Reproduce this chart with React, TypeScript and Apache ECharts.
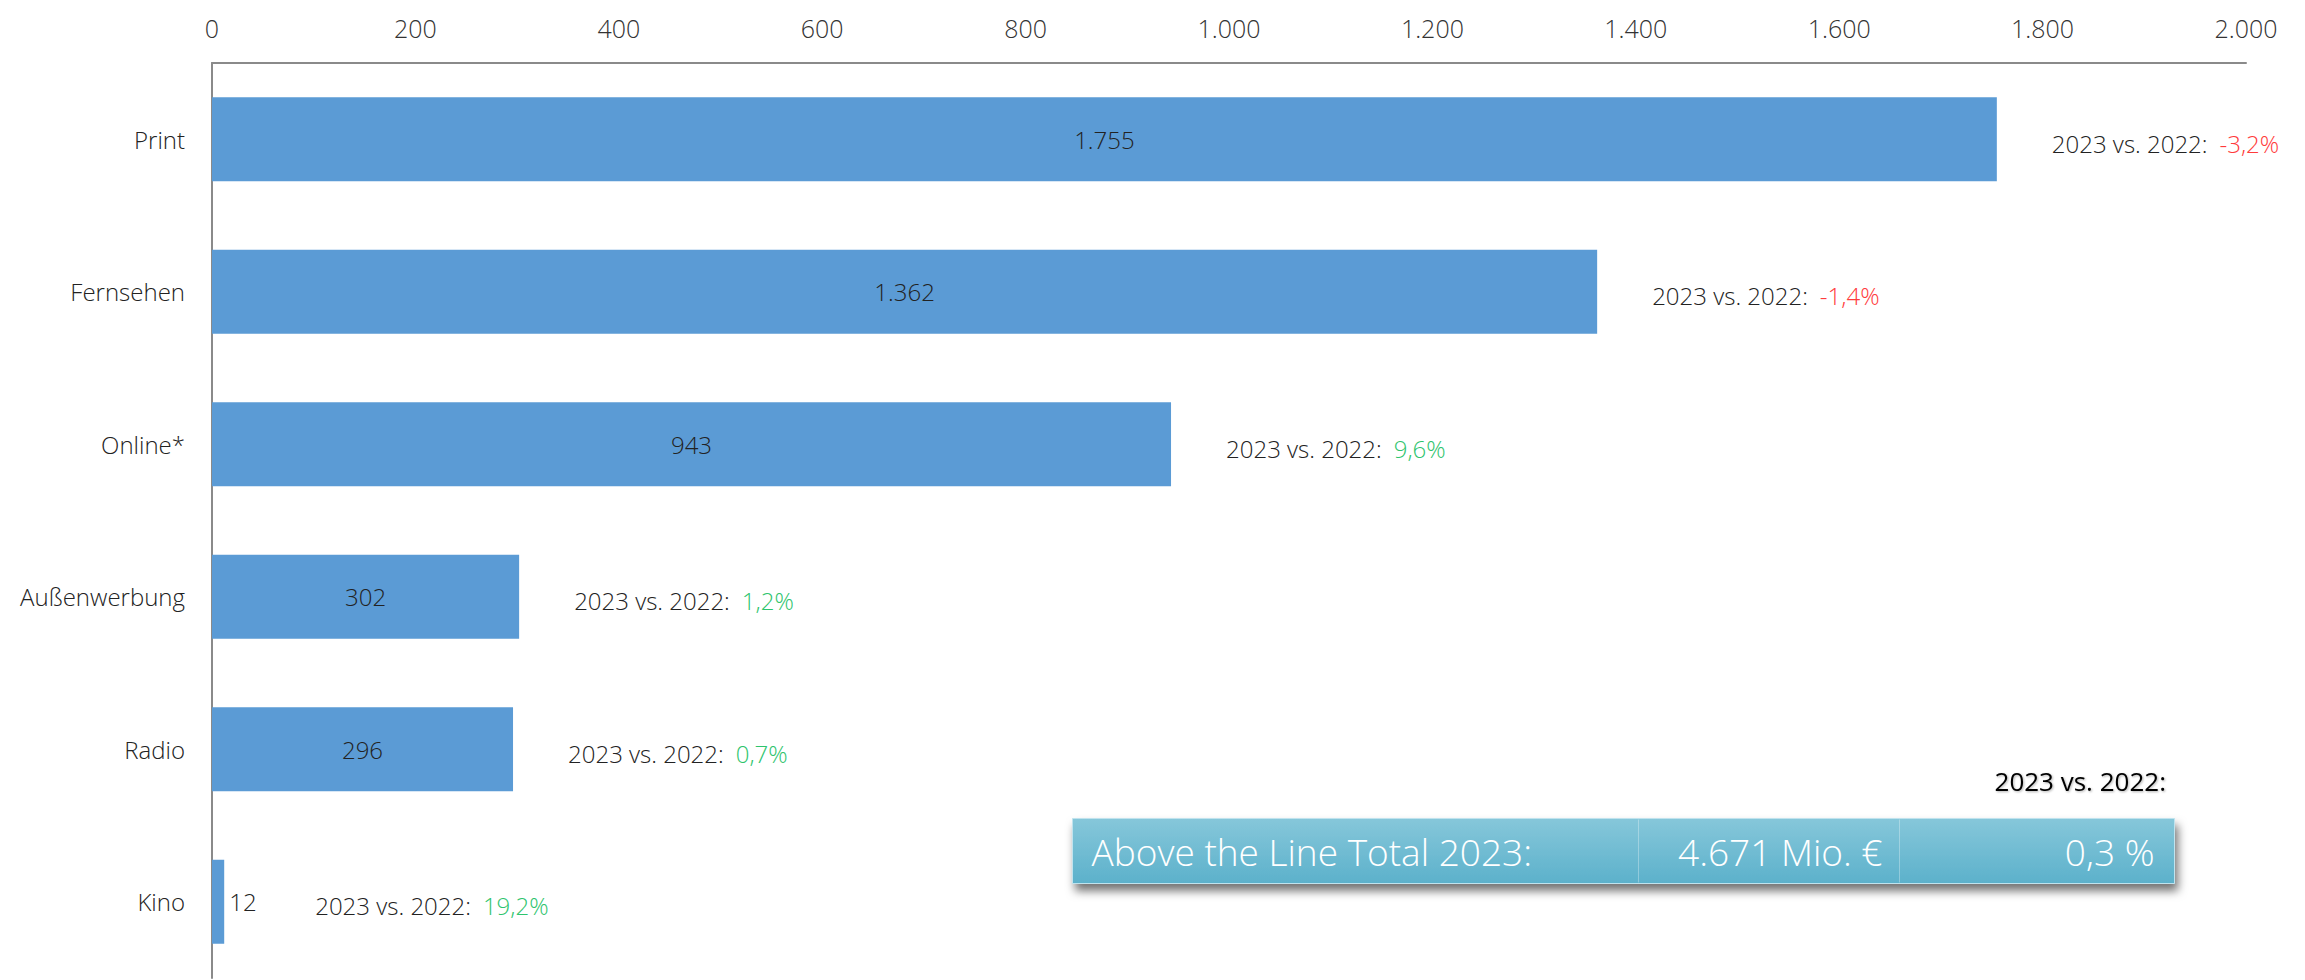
import React, { useEffect, useRef } from "react";
import * as echarts from "echarts";

const categories = ["Print", "Fernsehen", "Online*", "Außenwerbung", "Radio", "Kino"];
const values = [1755, 1362, 943, 302, 296, 12];
const changes = [-3.2, -1.4, 9.6, 1.2, 0.7, 19.2];
const compareLabel = "2023 vs. 2022:";
const axisMin = 0;
const axisMax = 2000;
const axisInterval = 200;
const totalLabel = "Above the Line Total 2023:";
const totalValue = 4671;
const totalChange = 0.3;

const FONT = "'Open Sans', 'Noto Sans', sans-serif";

function fmtThousands(v: number): string {
  const s = String(Math.round(v));
  return s.replace(/\B(?=(\d{3})+(?!\d))/g, ".");
}
function fmtPct(v: number): string {
  return v.toFixed(1).replace(".", ",") + "%";
}

export default function App() {
  const ref = useRef<HTMLDivElement>(null);
  useEffect(() => {
    if (!ref.current) return;
    const chart = echarts.init(ref.current, null, { renderer: "svg" });
    const smallIdx = values.length - 1;

    const mainData = values.map((v, i) => {
      if (i === smallIdx) {
        return {
          value: v,
          label: { position: "right", distance: 5 },
        };
      }
      return { value: v };
    });

    const annData = values.map((v, i) => ({
      value: v,
      label: {
        distance: i === smallIdx ? 91 : 55,
        formatter: `{a|${compareLabel}}{${changes[i] < 0 ? "r" : "g"}|${fmtPct(changes[i])}}`,
      },
    }));

    const option: any = {
      animation: false,
      backgroundColor: "#ffffff",
      grid: { left: 212, right: 59, top: 63, bottom: 2, containLabel: false },
      xAxis: {
        type: "value",
        position: "top",
        min: axisMin,
        max: axisMax,
        interval: axisInterval,
        axisLine: { show: true, lineStyle: { color: "#8a8a8a", width: 2 } },
        axisTick: { show: false },
        splitLine: { show: false },
        axisLabel: {
          margin: 23,
          fontFamily: FONT,
          fontWeight: 300,
          fontSize: 25,
          color: "#333333",
          formatter: (v: number) => fmtThousands(v),
        },
      },
      yAxis: {
        type: "category",
        inverse: true,
        data: categories,
        axisLine: { show: true, lineStyle: { color: "#8a8a8a", width: 2 } },
        axisTick: { show: false },
        axisLabel: {
          margin: 27,
          fontFamily: FONT,
          fontWeight: 300,
          fontSize: 24,
          color: "#222222",
        },
      },
      series: [
        {
          type: "bar",
          data: mainData,
          barWidth: 84,
          itemStyle: { color: "#5b9bd5" },
          label: {
            show: true,
            position: "inside",
            fontFamily: FONT,
            fontWeight: 300,
            fontSize: 24,
            color: "#222222",
            formatter: (p: any) => fmtThousands(p.value),
          },
          z: 2,
        },
        {
          type: "bar",
          data: annData,
          barWidth: 84,
          barGap: "-100%",
          itemStyle: { color: "rgba(0,0,0,0)" },
          silent: true,
          label: {
            show: true,
            position: "right",
            offset: [0, 4],
            fontFamily: FONT,
            fontWeight: 300,
            fontSize: 24,
            color: "#222222",
            rich: {
              a: { fontFamily: FONT, fontWeight: 300, fontSize: 24, color: "#222222" },
              r: { fontFamily: FONT, fontWeight: 300, fontSize: 24, color: "#ff3b3b", padding: [0, 0, 0, 12] },
              g: { fontFamily: FONT, fontWeight: 300, fontSize: 24, color: "#2ec46d", padding: [0, 0, 0, 12] },
            },
          },
          z: 3,
        },
      ],
      graphic: [
        {
          type: "text",
          right: 2305 - 2166,
          top: 768,
          style: {
            text: compareLabel,
            fontFamily: FONT,
            fontWeight: 400,
            fontSize: 26,
            fill: "#000000",
            textShadowColor: "rgba(0,0,0,0.3)",
            textShadowBlur: 2,
            textShadowOffsetX: 1,
            textShadowOffsetY: 1,
          },
        },
        {
          type: "group",
          left: 1072,
          top: 817,
          children: [
            {
              type: "rect",
              shape: { x: 0, y: 0, width: 1102, height: 65 },
              style: {
                fill: new echarts.graphic.LinearGradient(0, 0, 0, 1, [
                  { offset: 0, color: "#86c7da" },
                  { offset: 1, color: "#5cb1cb" },
                ]),
                stroke: "#bfe3ee",
                lineWidth: 1,
                shadowBlur: 10,
                shadowOffsetX: 3,
                shadowOffsetY: 7,
                shadowColor: "rgba(0,0,0,0.55)",
              },
            },
            {
              type: "line",
              shape: { x1: 566, y1: 1, x2: 566, y2: 64 },
              style: { stroke: "rgba(255,255,255,0.3)", lineWidth: 1 },
            },
            {
              type: "line",
              shape: { x1: 827, y1: 1, x2: 827, y2: 64 },
              style: { stroke: "rgba(255,255,255,0.3)", lineWidth: 1 },
            },
            {
              type: "text",
              x: 19,
              y: 33,
              style: {
                text: totalLabel,
                fontFamily: FONT,
                fontWeight: 300,
                fontSize: 37,
                fill: "#ffffff",
                verticalAlign: "middle",
              },
            },
            {
              type: "text",
              x: 810,
              y: 33,
              style: {
                text: fmtThousands(totalValue) + " Mio. €",
                fontFamily: FONT,
                fontWeight: 300,
                fontSize: 37,
                fill: "#ffffff",
                align: "right",
                verticalAlign: "middle",
              },
            },
            {
              type: "text",
              x: 1082,
              y: 33,
              style: {
                text: totalChange.toFixed(1).replace(".", ",") + " %",
                fontFamily: FONT,
                fontWeight: 300,
                fontSize: 37,
                fill: "#ffffff",
                align: "right",
                verticalAlign: "middle",
              },
            },
          ],
        },
      ],
    };
    chart.setOption(option);
    return () => chart.dispose();
  }, []);
  return (
    <div
      ref={ref}
      style={{ position: "absolute", left: 0, top: 0, width: 2305, height: 980 }}
    />
  );
}
